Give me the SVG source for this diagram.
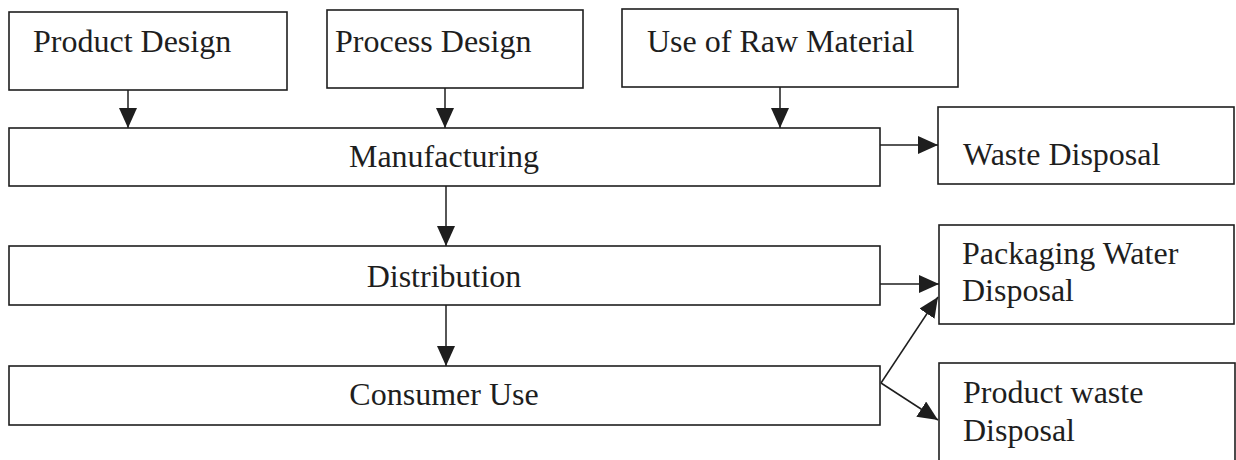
<svg xmlns="http://www.w3.org/2000/svg" width="1236" height="460" viewBox="0 0 1236 460">
  <style>
    .box { fill: #ffffff; stroke: #1e1e1e; stroke-width: 1.6; }
    .label { font-family: "Liberation Serif", "Times New Roman", serif; font-size: 32px; fill: #1e1e1e; }
    .mid { text-anchor: middle; }
    .link { stroke: #1e1e1e; stroke-width: 1.5; fill: none; marker-end: url(#head); }
  </style>
  <defs>
    <marker id="head" markerUnits="userSpaceOnUse" markerWidth="20" markerHeight="18" refX="20" refY="9" orient="auto">
      <path d="M0,0 L20,9 L0,18 Z" fill="#1e1e1e"/>
    </marker>
  </defs>
  <rect width="1236" height="460" fill="#ffffff"/>

  <g id="product-design">
    <rect class="box" x="9" y="12" width="278" height="78"/>
    <text class="label" x="33" y="52">Product Design</text>
  </g>
  <g id="process-design">
    <rect class="box" x="327" y="10" width="256" height="78"/>
    <text class="label" x="335" y="52">Process Design</text>
  </g>
  <g id="raw-material">
    <rect class="box" x="622" y="9" width="336" height="78"/>
    <text class="label" x="647" y="52">Use of Raw Material</text>
  </g>
  <g id="manufacturing">
    <rect class="box" x="9" y="128" width="871" height="58"/>
    <text class="label mid" x="444" y="167">Manufacturing</text>
  </g>
  <g id="waste-disposal">
    <rect class="box" x="938" y="107" width="296" height="77"/>
    <text class="label" x="963" y="165">Waste Disposal</text>
  </g>
  <g id="distribution">
    <rect class="box" x="9" y="246" width="871" height="59"/>
    <text class="label mid" x="444" y="287">Distribution</text>
  </g>
  <g id="packaging-disposal">
    <rect class="box" x="939" y="225" width="295" height="99"/>
    <text class="label" x="962" y="264">Packaging Water</text>
    <text class="label" x="962" y="301">Disposal</text>
  </g>
  <g id="consumer-use">
    <rect class="box" x="9" y="366" width="871" height="59"/>
    <text class="label mid" x="444" y="405">Consumer Use</text>
  </g>
  <g id="product-waste-disposal">
    <rect class="box" x="939" y="363" width="296" height="110"/>
    <text class="label" x="963" y="403">Product waste</text>
    <text class="label" x="963" y="441">Disposal</text>
  </g>

  <g id="connectors">
    <line class="link" x1="128" y1="90" x2="128" y2="128"/>
    <line class="link" x1="445" y1="88" x2="445" y2="128"/>
    <line class="link" x1="780" y1="87" x2="780" y2="128"/>
    <line class="link" x1="880" y1="145" x2="938" y2="145"/>
    <line class="link" x1="446" y1="186" x2="446" y2="246"/>
    <line class="link" x1="880" y1="284" x2="939" y2="284"/>
    <line class="link" x1="446" y1="305" x2="446" y2="366"/>
    <line class="link" x1="881" y1="383" x2="938" y2="297"/>
    <line class="link" x1="881" y1="383" x2="938" y2="420"/>
  </g>
</svg>
